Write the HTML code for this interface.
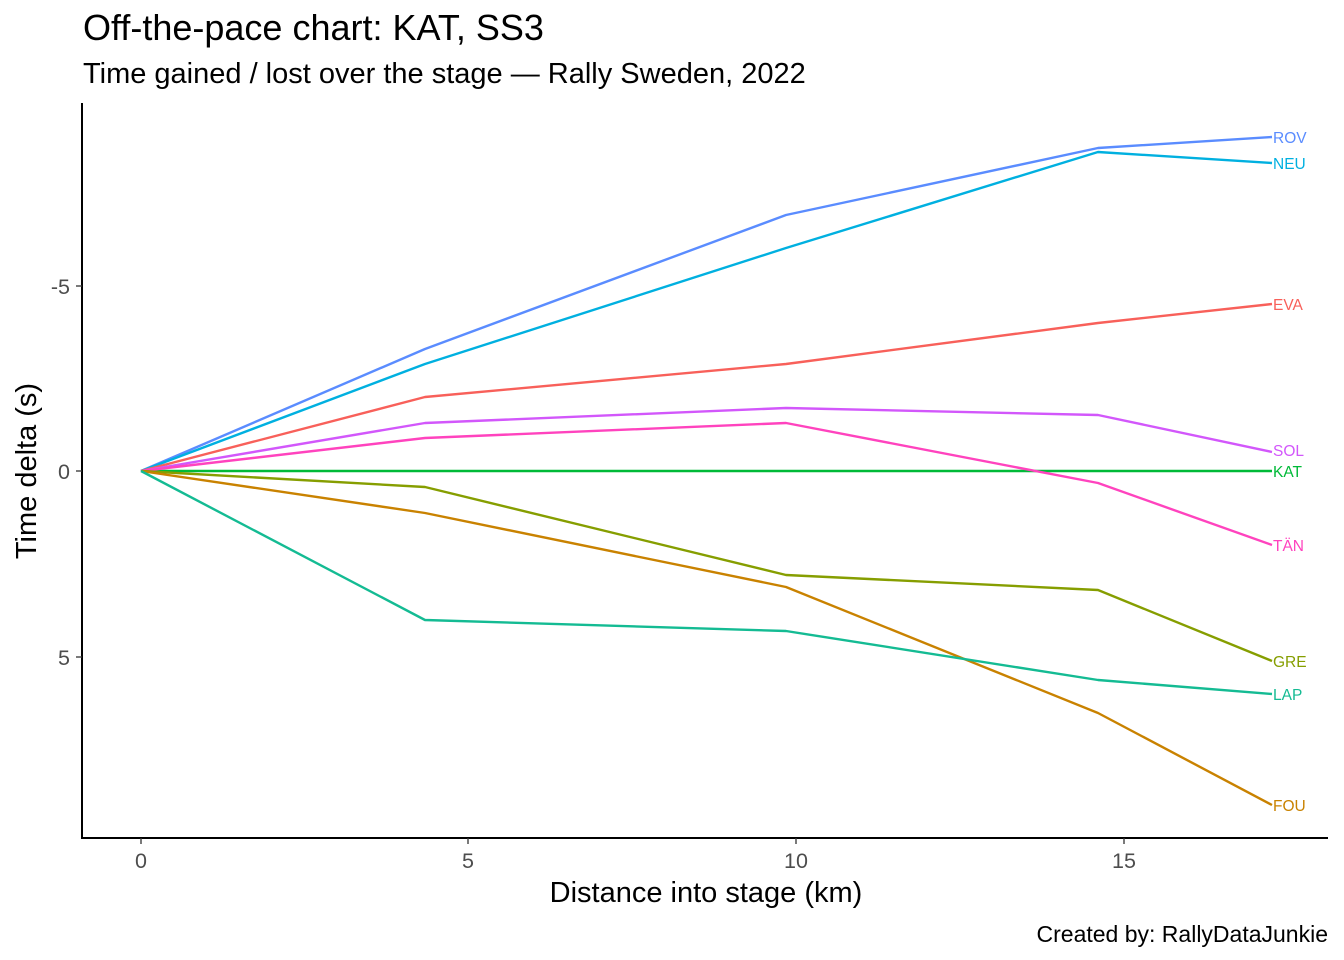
<!DOCTYPE html>
<html><head><meta charset="utf-8"><style>
html,body{margin:0;padding:0;background:#fff;}
svg{display:block;font-family:"Liberation Sans",Arial,sans-serif;}
</style></head><body>
<svg width="1344" height="960" viewBox="0 0 1344 960" xmlns="http://www.w3.org/2000/svg">
<rect width="1344" height="960" fill="#fff"/>
<text x="83" y="40" font-size="36" fill="#000">Off-the-pace chart: KAT, SS3</text>
<text x="83" y="83" font-size="29" fill="#000">Time gained / lost over the stage — Rally Sweden, 2022</text>
<g fill="none" stroke-width="2.4" stroke-linejoin="round">
<polyline stroke="#00BA38" points="141,471 425,471 786,471 1098,471 1272,471"/>
<polyline stroke="#5A8CFF" points="141,471 425,349 786,215 1098,148 1272,137"/>
<polyline stroke="#00B0E0" points="141,471 425,364 786,248 1098,152 1272,163"/>
<polyline stroke="#F8605A" points="141,471 425,397 786,364 1098,323 1272,304"/>
<polyline stroke="#D257FB" points="141,471 425,423 786,408 1098,415 1272,452"/>
<polyline stroke="#FF43BE" points="141,471 425,438 786,423 1098,483 1272,545"/>
<polyline stroke="#869E00" points="141,471 425,487 786,575 1098,590 1272,661"/>
<polyline stroke="#C98200" points="141,471 425,513 786,587 1098,713 1272,805"/>
<polyline stroke="#14BB93" points="141,471 425,620 786,631 1098,680 1272,694"/>
</g>
<g font-size="15.5">
<text x="1273" y="143" fill="#5A8CFF">ROV</text>
<text x="1273" y="169" fill="#00B0E0">NEU</text>
<text x="1273" y="310" fill="#F8605A">EVA</text>
<text x="1273" y="456" fill="#D257FB">SOL</text>
<text x="1273" y="477" fill="#00BA38">KAT</text>
<text x="1273" y="551" fill="#FF43BE">TÄN</text>
<text x="1273" y="667" fill="#869E00">GRE</text>
<text x="1273" y="700" fill="#14BB93">LAP</text>
<text x="1273" y="811" fill="#C98200">FOU</text>
</g>
<g stroke="#000" stroke-width="2">
<line x1="82" y1="103" x2="82" y2="839"/>
<line x1="81" y1="838" x2="1328" y2="838"/>
<line x1="76" y1="286" x2="82" y2="286" stroke="#333" stroke-width="1.3"/>
<line x1="76" y1="471" x2="82" y2="471" stroke="#333" stroke-width="1.3"/>
<line x1="76" y1="657" x2="82" y2="657" stroke="#333" stroke-width="1.3"/>
<line x1="141" y1="838" x2="141" y2="844" stroke="#333" stroke-width="1.3"/>
<line x1="468" y1="838" x2="468" y2="844" stroke="#333" stroke-width="1.3"/>
<line x1="796" y1="838" x2="796" y2="844" stroke="#333" stroke-width="1.3"/>
<line x1="1124" y1="838" x2="1124" y2="844" stroke="#333" stroke-width="1.3"/>
</g>
<g font-size="21.5" fill="#4d4d4d">
<text x="70" y="294" text-anchor="end">-5</text>
<text x="70" y="479" text-anchor="end">0</text>
<text x="70" y="665" text-anchor="end">5</text>
<text x="141" y="868" text-anchor="middle">0</text>
<text x="468" y="868" text-anchor="middle">5</text>
<text x="796" y="868" text-anchor="middle">10</text>
<text x="1124" y="868" text-anchor="middle">15</text>
</g>
<text x="706" y="902" font-size="29" text-anchor="middle" fill="#000">Distance into stage (km)</text>
<text transform="translate(36,471) rotate(-90)" font-size="29" text-anchor="middle" fill="#000">Time delta (s)</text>
<text x="1328" y="942" font-size="23" text-anchor="end" fill="#000">Created by: RallyDataJunkie</text>
</svg>
</body></html>
